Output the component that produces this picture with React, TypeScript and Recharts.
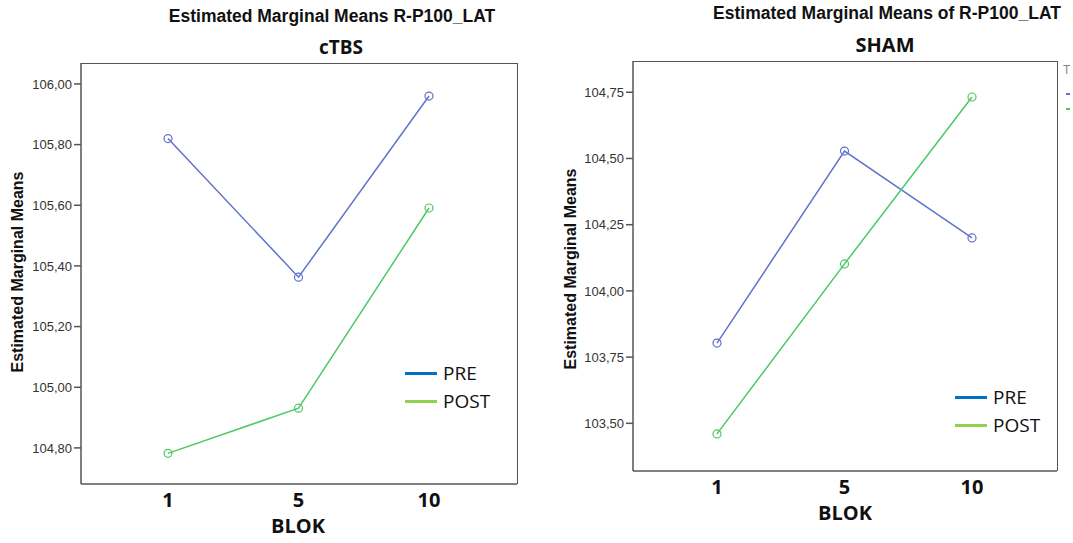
import React from "react";
import { LineChart, Line, XAxis, YAxis } from "recharts";

const blocks = ["1", "5", "10"];

const ctbsPre = [105.82, 105.363, 105.96];
const ctbsPost = [104.782, 104.931, 105.591];
const ctbsTicks = [104.8, 105.0, 105.2, 105.4, 105.6, 105.8, 106.0];

const shamPre = [103.803, 104.528, 104.2];
const shamPost = [103.46, 104.102, 104.732];
const shamTicks = [103.5, 103.75, 104.0, 104.25, 104.5, 104.75];

const legendItems = [
  { name: "PRE", color: "#0070C0" },
  { name: "POST", color: "#92D050" },
];

const PRE_COLOR = "#6172cc";
const POST_COLOR = "#4cc866";
const AXIS = "#555";
const CAL = "'Open Sans', 'Liberation Sans', sans-serif";
const ARIAL = "'Liberation Sans', Arial, sans-serif";

const fmt = (v: number) => v.toFixed(2).replace(".", ",");

const abs = (left: number, top: number): React.CSSProperties => ({
  position: "absolute",
  left,
  top,
  whiteSpace: "nowrap",
});

function LegendBox({ left, top }: { left: number; top: number }) {
  return (
    <div style={abs(left, top)}>
      {legendItems.map((it) => (
        <div
          key={it.name}
          style={{ display: "flex", alignItems: "center", height: 28 }}
        >
          <div
            style={{ width: 32, height: 3, background: it.color, marginRight: 6 }}
          />
          <span style={{ fontFamily: CAL, fontSize: 19, color: "#111" }}>
            {it.name}
          </span>
        </div>
      ))}
    </div>
  );
}

interface PanelProps {
  pre: number[];
  post: number[];
  ticks: number[];
  domain: [number, number];
  width: number;
  margin: { top: number; right: number; bottom: number; left: number };
  pad: { left: number; right: number };
}

function Panel({ pre, post, ticks, domain, width, margin, pad }: PanelProps) {
  const data = blocks.map((b, i) => ({ blok: b, pre: pre[i], post: post[i] }));
  return (
    <LineChart width={width} height={543} data={data} margin={margin}>
      <XAxis
        dataKey="blok"
        padding={pad}
        tickLine={false}
        tickSize={0}
        tickMargin={9}
        stroke={AXIS}
        strokeWidth={1.5}
        tick={{ fontFamily: CAL, fontWeight: 700, fontSize: 20, fill: "#111" }}
      />
      <YAxis
        type="number"
        domain={domain}
        ticks={ticks}
        allowDataOverflow
        width={60}
        tickSize={7}
        tickFormatter={fmt}
        stroke={AXIS}
        strokeWidth={1.5}
        tick={{ fontFamily: ARIAL, fontSize: 13, fill: "#333" }}
      />
      <Line
        dataKey="pre"
        stroke={PRE_COLOR}
        strokeWidth={1.5}
        dot={{ r: 4, stroke: PRE_COLOR, strokeWidth: 1.2, fill: "none" }}
        isAnimationActive={false}
      />
      <Line
        dataKey="post"
        stroke={POST_COLOR}
        strokeWidth={1.5}
        dot={{ r: 4, stroke: POST_COLOR, strokeWidth: 1.2, fill: "none" }}
        isAnimationActive={false}
      />
    </LineChart>
  );
}

// frame around the plot area (top and right edges)
function Frame({ x1, y1, x2, y2 }: { x1: number; y1: number; x2: number; y2: number }) {
  return (
    <div
      style={{
        ...abs(x1, y1),
        width: x2 - x1,
        height: y2 - y1,
        borderTop: `1.5px solid ${AXIS}`,
        borderRight: `1.5px solid ${AXIS}`,
        boxSizing: "border-box",
        pointerEvents: "none",
      }}
    />
  );
}

const centered = (
  left: number,
  top: number,
  font: string,
  size: number,
  rotate = false
): React.CSSProperties => ({
  ...abs(left, top),
  transform: `translate(-50%, -50%)${rotate ? " rotate(-90deg)" : ""}`,
  fontFamily: font,
  fontWeight: 700,
  fontSize: size,
  color: "#111",
});

export default function App() {
  return (
    <div
      style={{
        position: "absolute",
        left: 0,
        top: 0,
        width: 1073,
        height: 543,
        background: "#fff",
        overflow: "hidden",
      }}
    >
      {/* left panel: cTBS */}
      <div style={abs(0, 0)}>
        <Panel
          pre={ctbsPre}
          post={ctbsPost}
          ticks={ctbsTicks}
          domain={[104.681, 106.069]}
          width={540}
          margin={{ top: 63, right: 23, bottom: 29, left: 21 }}
          pad={{ left: 87, right: 88 }}
        />
      </div>
      <Frame x1={81} y1={63} x2={518} y2={484} />
      <LegendBox left={405} top={359} />
      <div style={centered(332, 16, ARIAL, 17.5)}>
        Estimated Marginal Means R-P100_LAT
      </div>
      <div style={centered(341, 47, CAL, 19)}>cTBS</div>
      <div style={centered(18, 272, ARIAL, 16, true)}>Estimated Marginal Means</div>
      <div style={centered(298, 525, CAL, 20)}>BLOK</div>

      {/* right panel: SHAM */}
      <div style={abs(540, 0)}>
        <Panel
          pre={shamPre}
          post={shamPost}
          ticks={shamTicks}
          domain={[103.32, 104.868]}
          width={533}
          margin={{ top: 61, right: 16, bottom: 42, left: 33 }}
          pad={{ left: 84, right: 85 }}
        />
      </div>
      <Frame x1={633} y1={61} x2={1058} y2={471} />
      <LegendBox left={955} top={383} />
      <div style={centered(887, 13, ARIAL, 17.5)}>
        Estimated Marginal Means of R-P100_LAT
      </div>
      <div style={centered(885, 44, CAL, 20)}>SHAM</div>
      <div style={centered(571, 269, ARIAL, 16, true)}>Estimated Marginal Means</div>
      <div style={centered(845, 512, CAL, 20)}>BLOK</div>

      {/* cut-off legend remnant at the right edge */}
      <div style={{ ...abs(1063, 63), fontFamily: ARIAL, fontSize: 12, color: "#888" }}>
        T
      </div>
      <div style={{ ...abs(1066, 93), width: 4, height: 2, background: PRE_COLOR }} />
      <div style={{ ...abs(1066, 108), width: 4, height: 2, background: POST_COLOR }} />
    </div>
  );
}
